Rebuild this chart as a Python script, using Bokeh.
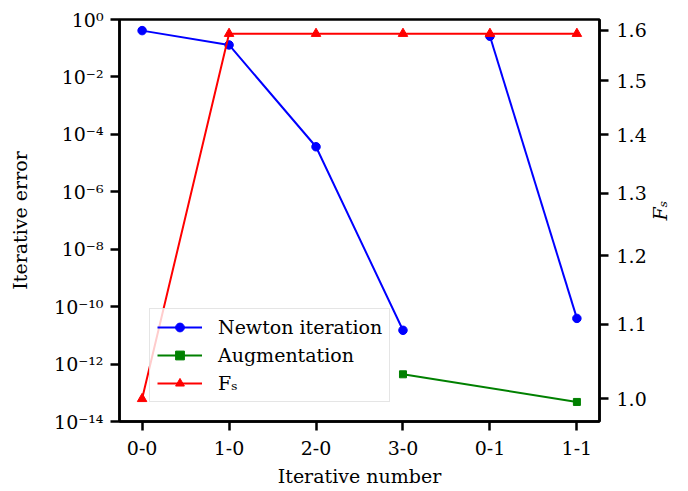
import math
from bokeh.plotting import figure
from bokeh.models import (Range1d, LinearAxis, FixedTicker, CustomJSTickFormatter,
                          Legend, LegendItem)
from bokeh.embed import file_html
from bokeh.resources import INLINE

# ---- data ----
categories = ["0-0", "1-0", "2-0", "3-0", "0-1", "1-1"]

newton_cats = ["0-0", "1-0", "2-0", "3-0", "0-1", "1-1"]
newton_err = [0.41, 0.13, 3.7e-5, 1.5e-11, 0.26, 3.9e-11]
newton_run = [0, 0, 0, 0, 1, 1]

aug_cats = ["3-0", "1-1"]
aug_err = [4.4e-13, 4.8e-14]

fs_cats = ["0-0", "1-0", "2-0", "3-0", "0-1", "1-1"]
fs_vals = [1.0, 1.593, 1.593, 1.593, 1.593, 1.593]

left_ticks = [1e-14, 1e-12, 1e-10, 1e-8, 1e-6, 1e-4, 1e-2, 1e0]
right_ticks = [1.0, 1.1, 1.2, 1.3, 1.4, 1.5, 1.6]

FONT = "DejaVu Serif"
FS = "19px"
TXT = "black"

def xpos(c):
    return categories.index(c)

p = figure(output_backend="svg", toolbar_location=None,
           width=686, height=489,
           min_border_left=119, min_border_right=87,
           min_border_top=19, min_border_bottom=66,
           y_axis_type="log",
           x_range=Range1d(-0.26, len(categories) - 1 + 0.26),
           y_range=Range1d(1e-14, 1e0))
p.extra_y_ranges = {"fs": Range1d(0.9715, 1.622)}

p.grid.visible = False
p.outline_line_color = "black"
p.outline_line_width = 2.5
p.background_fill_color = "white"
p.border_fill_color = "white"

def style_axis(ax):
    ax.axis_line_width = 2.5
    ax.axis_line_color = "black"
    ax.major_tick_line_width = 2.5
    ax.major_tick_in = 0
    ax.major_tick_out = 9
    ax.minor_tick_line_color = None
    ax.major_label_text_font = FONT
    ax.major_label_text_font_size = FS
    ax.major_label_text_color = TXT
    ax.axis_label_text_font = FONT
    ax.axis_label_text_font_size = FS
    ax.axis_label_text_font_style = "normal"
    ax.axis_label_text_color = TXT

xa = p.xaxis[0]
style_axis(xa)
xa.ticker = FixedTicker(ticks=list(range(len(categories))))
xa.major_label_overrides = {i: c for i, c in enumerate(categories)}
xa.axis_label = "Iterative number"
xa.major_label_standoff = 10
xa.axis_label_standoff = 7

ya = p.yaxis[0]
style_axis(ya)
ya.ticker = FixedTicker(ticks=left_ticks)
ya.formatter = CustomJSTickFormatter(code="""
const sup = {"0":"\u2070","1":"\u00b9","2":"\u00b2","3":"\u00b3","4":"\u2074",
             "5":"\u2075","6":"\u2076","7":"\u2077","8":"\u2078","9":"\u2079","-":"\u207b"};
const e = Math.round(Math.log10(tick));
return "10" + String(e).split("").map(c => sup[c]).join("");
""")
ya.axis_label = "Iterative error"
ya.major_label_standoff = 7
ya.axis_label_standoff = 20

ra = LinearAxis(y_range_name="fs", axis_label="F\u209b")
style_axis(ra)
ra.ticker = FixedTicker(ticks=right_ticks)
ra.major_label_overrides = {t: f"{t:.1f}" for t in right_ticks}
ra.axis_label_text_font_style = "italic"
ra.major_label_standoff = 8
ra.axis_label_standoff = 10
try:
    ra.axis_label_orientation = math.pi / 2
except Exception:
    pass
p.add_layout(ra, "right")

# ---- glyphs ----
newton_renderers = []
for run in sorted(set(newton_run)):
    xs = [xpos(c) for c, r in zip(newton_cats, newton_run) if r == run]
    ys = [v for v, r in zip(newton_err, newton_run) if r == run]
    newton_renderers.append(p.line(xs, ys, line_color="#0000ff", line_width=2))
    newton_renderers.append(p.scatter(xs, ys, marker="circle", size=8.5,
                                      fill_color="#0000ff", line_color="#0000ff"))

ax_ = [xpos(c) for c in aug_cats]
aug_l = p.line(ax_, aug_err, line_color="#008000", line_width=2)
aug_m = p.scatter(ax_, aug_err, marker="square", size=7,
                  fill_color="#008000", line_color="#008000")

fx = [xpos(c) for c in fs_cats]
fs_l = p.line(fx, fs_vals, line_color="#ff0000", line_width=2, y_range_name="fs")
fs_m = p.scatter(fx, fs_vals, marker="triangle", size=9.5,
                 fill_color="#ff0000", line_color="#ff0000", y_range_name="fs")

legend = Legend(items=[
    LegendItem(label="Newton iteration", renderers=newton_renderers[:2]),
    LegendItem(label="Augmentation", renderers=[aug_l, aug_m]),
    LegendItem(label="F\u209b", renderers=[fs_l, fs_m]),
], location=(30, 19))
legend.label_text_font = FONT
legend.label_text_font_size = FS
legend.label_text_color = TXT
legend.glyph_width = 45
legend.glyph_height = 22
legend.label_height = 22
legend.label_standoff = 16
legend.spacing = 6
legend.padding = 7
legend.margin = 0
legend.border_line_color = "#cccccc"
legend.border_line_width = 1.5
legend.background_fill_alpha = 0.8
p.add_layout(legend, "center")

open("out.html", "w").write(file_html(p, INLINE))
